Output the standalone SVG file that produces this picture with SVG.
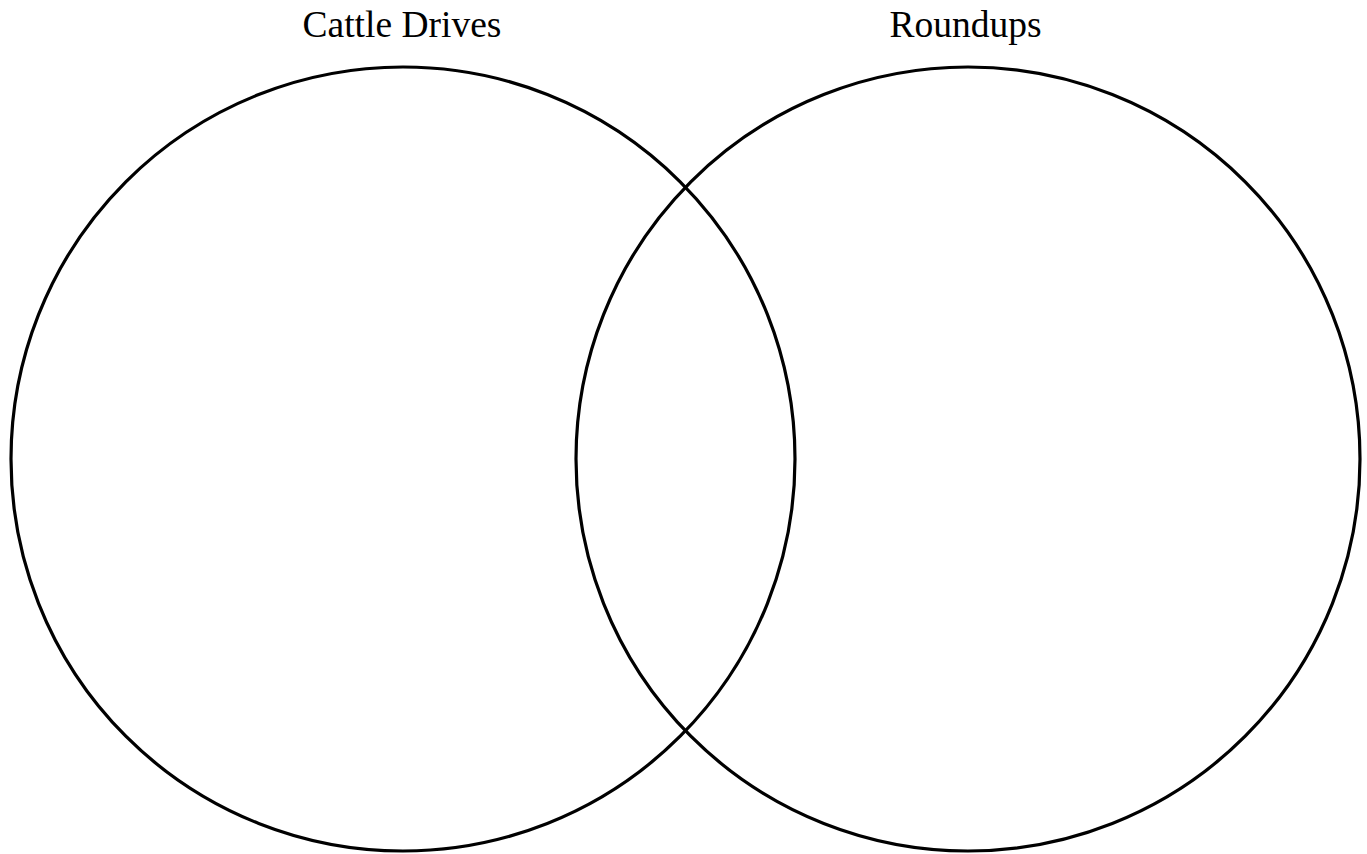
<svg xmlns="http://www.w3.org/2000/svg" width="1367" height="854" viewBox="0 0 1367 854">
<style>
.c{fill:none;stroke:#000;stroke-width:3.2}
.t{font-family:"Liberation Serif",serif;font-size:37.5px;fill:#000;text-anchor:middle}
</style>
<rect width="1367" height="854" fill="#fff"/>
<g id="cattle-drives">
<circle class="c" cx="403" cy="459" r="392"/>
<text class="t" x="402" y="37">Cattle Drives</text>
</g>
<g id="roundups">
<circle class="c" cx="968" cy="459" r="392"/>
<text class="t" x="965.5" y="37">Roundups</text>
</g>
<g id="connectors"></g>
</svg>
